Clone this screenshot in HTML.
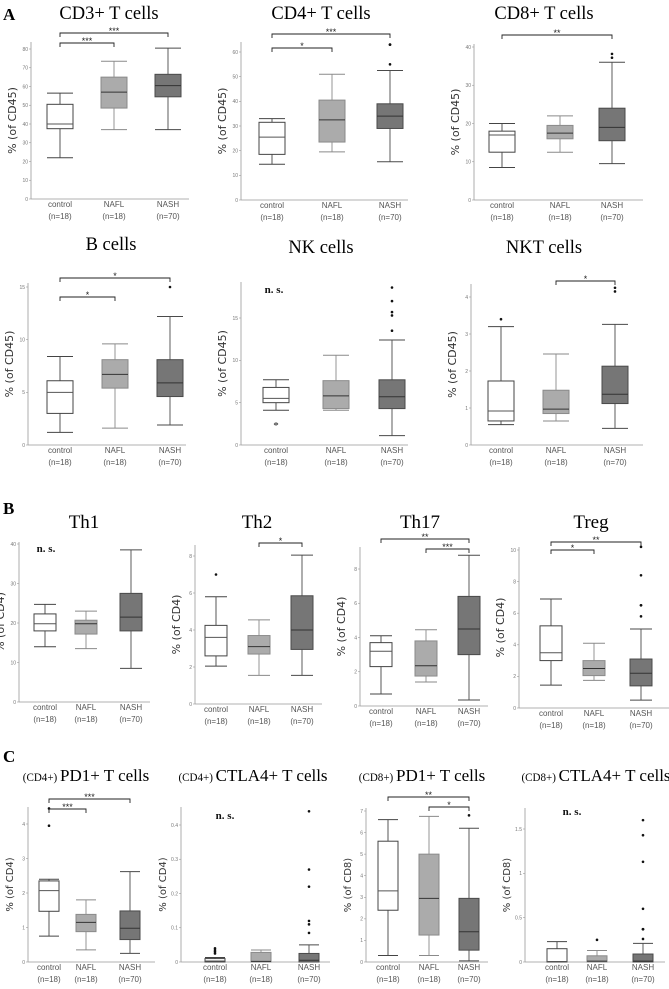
<!DOCTYPE html>
<html><head><meta charset="utf-8"><style>
html,body{margin:0;padding:0;background:#fff;}
svg{display:block;}
</style></head><body>
<svg id="fig" width="669" height="989" viewBox="0 0 669 989" xmlns="http://www.w3.org/2000/svg">
<text x="3" y="20" font-family="Liberation Serif,serif" font-weight="bold" font-size="17">A</text>
<text x="3" y="514" font-family="Liberation Serif,serif" font-weight="bold" font-size="17">B</text>
<text x="3" y="762" font-family="Liberation Serif,serif" font-weight="bold" font-size="17">C</text>
</svg>
<script>
// ---- data ----
const categories = ['control','NAFL','NASH'];
const groupSizes = ['(n=18)','(n=18)','(n=70)'];
// box stats: [whiskerLow, q1, median, q3, whiskerHigh]
const cd3Stats = [[22,37.5,40,50.5,56.5],[37,48.5,57,65,73.5],[37,54.5,60.5,66.5,80.5]];
const cd3Out = [[],[],[]];
const cd4Stats = [[14.5,18.5,25.5,31.5,33],[19.5,23.5,32.5,40.5,51],[15.5,29,34,39,52.5]];
const cd4Out = [[],[],[55,63,63]];
const cd8Stats = [[8.5,12.5,17,18,20],[12.5,16,17.5,19.5,22],[9.5,15.5,19,24,36]];
const cd8Out = [[],[],[37.2,38.2]];
const bStats = [[1.2,3,5,6.1,8.4],[1.6,5.4,6.7,8.1,9.6],[1.9,4.6,5.9,8.1,12.2]];
const bOut = [[],[],[15]];
const nkStats = [[4.1,5,5.5,6.8,7.7],[4.1,4.3,5.8,7.6,10.6],[1.1,4.3,5.7,7.7,12.4]];
const nkOut = [[],[],[13.5,15.3,15.7,17,18.6]];
const nktStats = [[0.55,0.65,0.92,1.73,3.2],[0.65,0.85,0.97,1.48,2.46],[0.45,1.12,1.37,2.13,3.26]];
const nktOut = [[3.4],[],[4.15,4.25]];
const th1Stats = [[14,18,19.8,22.3,24.7],[13.5,17.2,19.8,20.7,23],[8.5,18,21.5,27.5,38.5]];
const th1Out = [[],[],[]];
const th2Stats = [[2.05,2.6,3.6,4.25,5.8],[1.55,2.7,3.1,3.7,4.55],[1.55,2.95,4.0,5.85,8.05]];
const th2Out = [[7],[],[]];
const th17Stats = [[0.7,2.3,3.2,3.7,4.1],[1.4,1.75,2.35,3.8,4.45],[0.35,3.0,4.5,6.4,8.8]];
const th17Out = [[],[],[]];
const tregStats = [[1.45,3.0,3.5,5.2,6.9],[1.75,2.05,2.5,3.0,4.1],[0.5,1.4,2.2,3.1,5.0]];
const tregOut = [[],[],[5.8,6.5,6.5,8.4,10.2]];
const pd1cd4Stats = [[0.75,1.47,2.07,2.35,2.4],[0.35,0.88,1.15,1.38,1.8],[0.25,0.65,0.98,1.48,2.62]];
const pd1cd4Out = [[3.95,4.45],[],[]];
const ctla4cd4Stats = [[0,0,0.003,0.01,0.013],[0,0,0.002,0.028,0.035],[0,0,0.005,0.025,0.05]];
const ctla4cd4Out = [[0.025,0.03,0.035,0.04],[],[0.085,0.11,0.12,0.22,0.27,0.44]];
const pd1cd8Stats = [[0.3,2.4,3.3,5.6,6.6],[0.3,1.25,2.95,5.0,6.75],[0.05,0.55,1.4,2.95,6.2]];
const pd1cd8Out = [[],[],[6.8]];
const ctla4cd8Stats = [[0,0,0.005,0.15,0.23],[0,0,0.01,0.07,0.13],[0,0,0.01,0.09,0.21]];
const ctla4cd8Out = [[],[0.25],[0.26,0.37,0.37,0.6,1.13,1.43,1.6]];
// significance: [fromGroup, toGroup, label]
const cd3Sig = [[0,1,'***'],[0,2,'***']];
const cd4Sig = [[0,1,'*'],[0,2,'***']];
const cd8Sig = [[0,2,'**']];
const bSig = [[0,1,'*'],[0,2,'*']];
const nktSig = [[1,2,'*']];
const th2Sig = [[1,2,'*']];
const th17Sig = [[1,2,'***'],[0,2,'**']];
const tregSig = [[0,1,'*'],[0,2,'**']];
const pd1cd4Sig = [[0,1,'***'],[0,2,'***']];
const pd1cd8Sig = [[1,2,'*'],[0,2,'**']];
const cd3Ticks = [0,10,20,30,40,50,60,70,80];
const cd4Ticks = [0,10,20,30,40,50,60];
const cd8Ticks = [0,10,20,30,40];
const bTicks = [0,5,10,15];
const nkTicks = [0,5,10,15];
const nktTicks = [0,1,2,3,4];
const th1Ticks = [0,10,20,30,40];
const th2Ticks = [0,2,4,6,8];
const th17Ticks = [0,2,4,6,8];
const tregTicks = [0,2,4,6,8,10];
const pd1cd4Ticks = [0,1,2,3,4];
const ctla4cd4Ticks = [0,0.1,0.2,0.3,0.4];
const pd1cd8Ticks = [0,1,2,3,4,5,6,7];
const ctla4cd8Ticks = [0,0.5,1.0,1.5];

// ---- layout (pixels) ----
const panels = [
 {id:'cd3',title:'CD3+ T cells',tx:109,ty:19,ts:18.5,yl:'% (of CD45)',ax:31,xr:189,y0:199,yt:49,tv:80,top:42,xs:[60,114,168],bw:26,st:cd3Stats,out:cd3Out,sig:cd3Sig,sy:[43,33],ticks:cd3Ticks},
 {id:'cd4',title:'CD4+ T cells',tx:321,ty:19,ts:18.5,yl:'% (of CD45)',ax:241,xr:408,y0:200,yt:52,tv:60,top:42,xs:[272,332,390],bw:26,st:cd4Stats,out:cd4Out,sig:cd4Sig,sy:[48,34],ticks:cd4Ticks},
 {id:'cd8',title:'CD8+ T cells',tx:544,ty:19,ts:18.5,yl:'% (of CD45)',ax:474,xr:643,y0:200,yt:47,tv:40,top:44,xs:[502,560,612],bw:26,st:cd8Stats,out:cd8Out,sig:cd8Sig,sy:[35],ticks:cd8Ticks},
 {id:'b',title:'B cells',tx:111,ty:250,ts:18.5,yl:'% (of CD45)',ax:28,xr:186,y0:445,yt:287,tv:15,top:283,xs:[60,115,170],bw:26,st:bStats,out:bOut,sig:bSig,sy:[297,278],ticks:bTicks},
 {id:'nk',title:'NK cells',tx:321,ty:253,ts:18.5,yl:'% (of CD45)',ax:241,xr:408,y0:445,yt:318,tv:15,top:282,xs:[276,336,392],bw:26,st:nkStats,out:nkOut,sig:[],sy:[],ticks:nkTicks,ns:[274,293],ctrlStar:2.5},
 {id:'nkt',title:'NKT cells',tx:544,ty:253,ts:18.5,yl:'% (of CD45)',ax:471,xr:643,y0:445,yt:297,tv:4,top:284,xs:[501,556,615],bw:26,st:nktStats,out:nktOut,sig:nktSig,sy:[281],ticks:nktTicks},
 {id:'th1',title:'Th1',tx:84,ty:528,ts:19,yl:'% (of CD4)',ax:19,xr:150,y0:702,yt:544,tv:40,top:542,xs:[45,86,131],bw:22,st:th1Stats,out:th1Out,sig:[],sy:[],ticks:th1Ticks,ns:[46,552]},
 {id:'th2',title:'Th2',tx:257,ty:528,ts:19,yl:'% (of CD4)',ax:195,xr:322,y0:704,yt:556,tv:8,top:545,xs:[216,259,302],bw:22,st:th2Stats,out:th2Out,sig:th2Sig,sy:[543],ticks:th2Ticks},
 {id:'th17',title:'Th17',tx:420,ty:528,ts:19,yl:'% (of CD4)',ax:360,xr:488,y0:706,yt:569,tv:8,top:547,xs:[381,426,469],bw:22,st:th17Stats,out:th17Out,sig:th17Sig,sy:[549,539],ticks:th17Ticks},
 {id:'treg',title:'Treg',tx:591,ty:528,ts:19,yl:'% (of CD4)',ax:519,xr:669,y0:708,yt:550,tv:10,top:547,xs:[551,594,641],bw:22,st:tregStats,out:tregOut,sig:tregSig,sy:[550,542],ticks:tregTicks},
 {id:'pd1cd4',pre:'(CD4+) ',title:'PD1+ T cells',tx:86,ty:781,ts:17,yl:'% (of CD4)',ax:28,xr:155,y0:962,yt:824,tv:4,top:807,xs:[49,86,130],bw:20,st:pd1cd4Stats,out:pd1cd4Out,sig:pd1cd4Sig,sy:[809,799],ticks:pd1cd4Ticks},
 {id:'ctla4cd4',pre:'(CD4+) ',title:'CTLA4+ T cells',tx:253,ty:781,ts:17,yl:'% (of CD4)',ax:181,xr:330,y0:962,yt:825,tv:0.4,top:807,xs:[215,261,309],bw:20,st:ctla4cd4Stats,out:ctla4cd4Out,sig:[],sy:[],ticks:ctla4cd4Ticks,ns:[225,819]},
 {id:'pd1cd8',pre:'(CD8+) ',title:'PD1+ T cells',tx:422,ty:781,ts:17,yl:'% (of CD8)',ax:366,xr:488,y0:962,yt:811,tv:7,top:808,xs:[388,429,469],bw:20,st:pd1cd8Stats,out:pd1cd8Out,sig:pd1cd8Sig,sy:[807,797],ticks:pd1cd8Ticks},
 {id:'ctla4cd8',pre:'(CD8+) ',title:'CTLA4+ T cells',tx:596,ty:781,ts:17,yl:'% (of CD8)',ax:525,xr:665,y0:962,yt:829,tv:1.5,top:808,xs:[557,597,643],bw:20,st:ctla4cd8Stats,out:ctla4cd8Out,sig:[],sy:[],ticks:ctla4cd8Ticks,ns:[572,815]}
];
const fills = ['#ffffff','#ababab','#767676'];
const strokes = ['#444','#8a8a8a','#4a4a4a'];
const svg = document.getElementById('fig');
const NS = 'http://www.w3.org/2000/svg';
function mk(tag, attrs, parent){
  const e = document.createElementNS(NS, tag);
  for (const k in attrs) e.setAttribute(k, attrs[k]);
  (parent||svg).appendChild(e);
  return e;
}
panels.forEach(p => {
  const g = mk('g', {});
  
  
  const yv = v => p.y0 - v / p.tv * (p.y0 - p.yt);
  const t = mk('text', {x:p.tx, y:p.ty, 'text-anchor':'middle', 'font-family':'Liberation Serif,serif', 'font-size':p.ts, fill:'#000'}, g);
  
  
  if (p.pre) {
    const s = mk('tspan', {'font-size':p.ts*0.65}, t); s.textContent = p.pre;
    const s2 = mk('tspan', {}, t); s2.textContent = p.title;
  } else t.textContent = p.title;
  const ya = mk('line', {x1:p.ax, y1:p.top, x2:p.ax, y2:p.y0, stroke:'#999', 'stroke-width':0.8}, g);
  
  
  const xa = mk('line', {x1:p.ax, y1:p.y0, x2:p.xr, y2:p.y0, stroke:'#999', 'stroke-width':0.8}, g);
  
  
  p.ticks.forEach(tv => {
    const y = yv(tv);
    mk('line', {x1:p.ax-2, y1:y, x2:p.ax, y2:y, stroke:'#999', 'stroke-width':0.6}, g);
    const tl = mk('text', {x:p.ax-3, y:y+1.8, 'text-anchor':'end', 'font-family':'Liberation Sans,sans-serif', 'font-size':5, fill:'#777'}, g);
    
    
    tl.textContent = String(tv);
  });
  const cy = (p.top + p.y0) / 2;
  const yl = mk('text', {x:p.ax-15, y:cy, 'text-anchor':'middle', 'font-family':'DejaVu Sans,sans-serif', 'font-size':p.ts>=18?11:10, fill:'#333', transform:'rotate(-90 '+(p.ax-15)+' '+cy+')'}, g);
  
  
  yl.textContent = p.yl;
  categories.forEach((c, i) => {
    const s = p.st[i], x = p.xs[i], hw = p.bw/2;
    const bg = mk('g', {}, g);
    
    
    const col = strokes[i];
    mk('line', {x1:x, y1:yv(s[0]), x2:x, y2:yv(s[1]), stroke:col, 'stroke-width':0.9}, bg);
    mk('line', {x1:x, y1:yv(s[3]), x2:x, y2:yv(s[4]), stroke:col, 'stroke-width':0.9}, bg);
    mk('line', {x1:x-hw, y1:yv(s[0]), x2:x+hw, y2:yv(s[0]), stroke:col, 'stroke-width':1}, bg);
    mk('line', {x1:x-hw, y1:yv(s[4]), x2:x+hw, y2:yv(s[4]), stroke:col, 'stroke-width':1}, bg);
    mk('rect', {x:x-hw, y:yv(s[3]), width:p.bw, height:Math.max(0.5, yv(s[1])-yv(s[3])), fill:fills[i], stroke:col, 'stroke-width':1}, bg);
    mk('line', {x1:x-hw, y1:yv(s[2]), x2:x+hw, y2:yv(s[2]), stroke:i===0?'#555':'#333', 'stroke-width':1}, bg);
    p.out[i].forEach(v => {
      const o = mk('circle', {cx:x, cy:yv(v), r:1.3, fill:'#111'}, bg);
      
      
    });
    const l1 = mk('text', {x:x, y:p.y0+8, 'text-anchor':'middle', 'font-family':'Liberation Sans,sans-serif', 'font-size':8, fill:'#555'}, g);
    
    
    l1.textContent = c;
    const l2 = mk('text', {x:x, y:p.y0+20, 'text-anchor':'middle', 'font-family':'Liberation Sans,sans-serif', 'font-size':8, fill:'#555'}, g);
    
    
    l2.textContent = groupSizes[i];
  });
  if (p.ctrlStar !== undefined) {
    const cs = mk('text', {x:p.xs[0], y:yv(p.ctrlStar)+5, 'text-anchor':'middle', 'font-family':'Liberation Serif,serif', 'font-size':11, fill:'#111'}, g);
    
    
    cs.textContent = '*';
  }
  p.sig.forEach((sg, k) => {
    const x1 = p.xs[sg[0]], x2 = p.xs[sg[1]], y = p.sy[k];
    const bk = mk('path', {d:'M'+x1+' '+(y+4)+'V'+y+'H'+x2+'V'+(y+4), fill:'none', stroke:'#222', 'stroke-width':0.9}, g);
    
    
    const st = mk('text', {x:(x1+x2)/2, y:y+1, 'text-anchor':'middle', 'font-family':'Liberation Sans,sans-serif', 'font-size':9, fill:'#222'}, g);
    
    
    st.textContent = sg[2];
  });
  if (p.ns) {
    const n = mk('text', {x:p.ns[0], y:p.ns[1], 'text-anchor':'middle', 'font-family':'Liberation Serif,serif', 'font-weight':'bold', 'font-size':11, fill:'#111'}, g);
    
    
    n.textContent = 'n. s.';
  }
});
</script>
</body></html>
